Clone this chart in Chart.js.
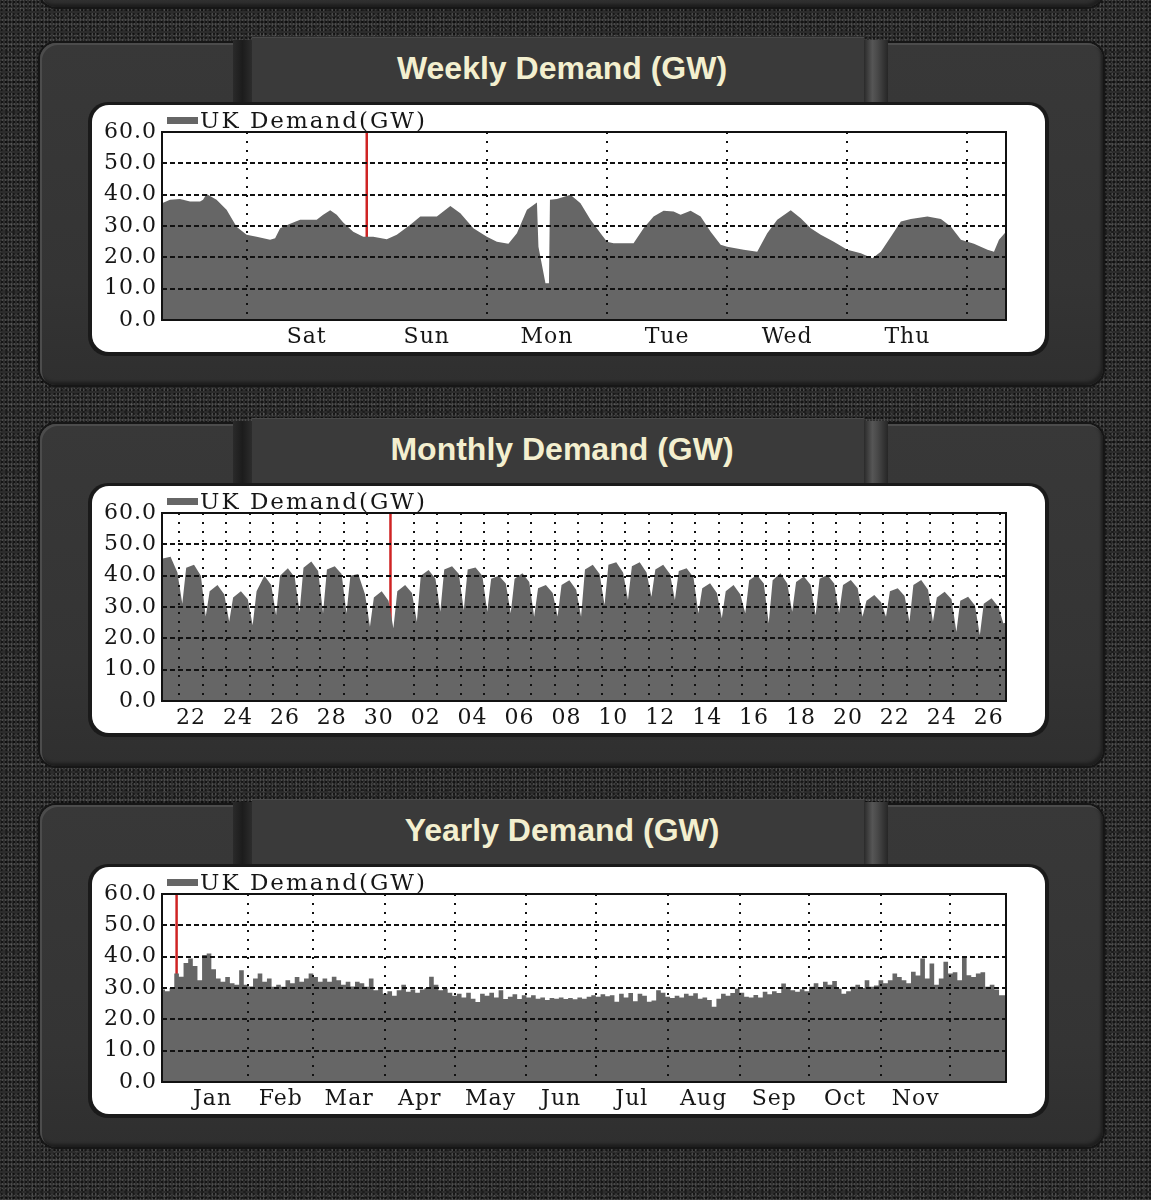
<!DOCTYPE html>
<html>
<head>
<meta charset="utf-8">
<script src="https://cdn.jsdelivr.net/npm/chart.js@4.4.1/dist/chart.umd.min.js"></script>
<style>
html,body{margin:0;padding:0;}
body{
  width:1151px;height:1200px;position:relative;overflow:hidden;
  background-color:#2c2c2c;
  background-image:
    radial-gradient(rgba(0,0,0,.55) 0.9px, transparent 1.4px),
    radial-gradient(rgba(255,255,255,.14) 0.7px, transparent 1.2px),
    radial-gradient(rgba(0,0,0,.35) 1px, transparent 1.6px),
    radial-gradient(rgba(255,255,255,.08) 1px, transparent 1.5px);
  background-size:4px 4px,3px 5px,7px 6px,11px 9px;
  background-position:0 0,1px 2px,3px 1px,5px 4px;
}
.frame{position:absolute;left:40px;width:1063px;height:342px;border-radius:16px;
  background:linear-gradient(#383838,#343434 70%,#2f2f2f);
  box-shadow:0 0 0 2px #161616, inset 2px 2px 0 #4c4c4c, inset -2px -3px 3px #1e1e1e;}
.tab{position:absolute;left:252px;width:612px;height:70px;background:#3a3a3a;
  box-shadow:inset 0 1px 0 #4a4a4a;}
.groove-l{position:absolute;left:233px;width:19px;height:67px;
  background:linear-gradient(90deg,#2a2a2a,#1c1c1c 50%,#2c2c2c);}
.groove-r{position:absolute;left:864px;width:24px;height:67px;
  background:linear-gradient(90deg,#2a2a2a,#565656 35%,#4a4a4a 55%,#262626);}
.title{position:absolute;left:252px;width:620px;height:38px;line-height:38px;text-align:center;
  font:bold 32px "Liberation Sans",Arial,sans-serif;color:#f3efcf;white-space:nowrap;}
.rim{position:absolute;left:88px;width:961px;height:254px;border-radius:20px;background:#1a1a1a;}
.box{position:absolute;left:92px;width:953px;height:247px;border-radius:17px;background:#fff;}
canvas{position:absolute;left:92px;}
</style>
</head>
<body>
<div class="frame" style="top:-335px"></div>

<div class="frame" style="top:43px"></div>
<div class="groove-l" style="top:40px"></div>
<div class="tab" style="top:37px"></div>
<div class="groove-r" style="top:40px"></div>
<div class="title" style="top:50px">Weekly Demand (GW)</div>
<div class="rim" style="top:102px"></div>
<div class="box" style="top:105px"></div>
<canvas id="weekly" width="953" height="247" style="top:105px"></canvas>

<div class="frame" style="top:424px"></div>
<div class="groove-l" style="top:421px"></div>
<div class="tab" style="top:418px"></div>
<div class="groove-r" style="top:421px"></div>
<div class="title" style="top:431px">Monthly Demand (GW)</div>
<div class="rim" style="top:483px"></div>
<div class="box" style="top:486px"></div>
<canvas id="monthly" width="953" height="247" style="top:486px"></canvas>

<div class="frame" style="top:805px"></div>
<div class="groove-l" style="top:802px"></div>
<div class="tab" style="top:799px"></div>
<div class="groove-r" style="top:802px"></div>
<div class="title" style="top:812px">Yearly Demand (GW)</div>
<div class="rim" style="top:864px"></div>
<div class="box" style="top:867px"></div>
<canvas id="yearly" width="953" height="247" style="top:867px"></canvas>

<script>
// ---------- shared ----------
const seriesLabel = 'UK Demand(GW)';
const yTickValues = [0, 10, 20, 30, 40, 50, 60];

// ---------- weekly (hours from Saturday 00:00) ----------
const weeklyHours = [
  -16.9, -15.3, -13.3, -11.3, -9.3, -8.7, -8.0, -6.0, -4.0, -2.0,
  0.0, 2.0, 4.7, 5.7, 6.7, 8.7, 10.7, 14.0, 15.3, 16.7,
  18.0, 19.3, 21.3, 23.3, 25.3, 28.0, 30.0, 32.7, 34.7, 38.0,
  40.7, 42.7, 45.3, 48.0, 50.0, 52.3, 54.0, 56.0, 58.0, 58.3,
  59.7, 60.4, 60.6, 62.0, 64.7, 66.7, 68.7, 70.7, 72.0, 73.3,
  77.3, 79.3, 81.3, 83.3, 85.3, 86.7, 88.7, 90.7, 92.7, 94.7,
  96.0, 99.3, 102.0, 104.0, 106.0, 108.7, 110.7, 112.7, 114.7, 117.3,
  120.0, 122.7, 125.0, 126.7, 128.7, 130.7, 132.7, 136.0, 138.7, 140.7,
  142.7, 145.3, 148.0, 149.3, 150.3, 151.7
];
const weeklyDemand = [
  37.3, 38.4, 38.6, 37.8, 37.8, 38.4, 40.2, 38.4, 35.2, 29.8,
  27.2, 26.6, 25.6, 26.1, 29.3, 30.7, 32.0, 32.0, 33.6, 35.0,
  33.6, 31.1, 28.2, 26.6, 26.6, 25.8, 27.2, 30.4, 33.0, 33.0,
  36.4, 34.1, 29.3, 26.6, 25.0, 24.3, 27.7, 35.2, 37.5, 23.4,
  11.7, 11.7, 38.4, 38.6, 40.0, 37.3, 32.0, 27.7, 25.0, 24.5,
  24.5, 29.3, 33.0, 34.9, 34.6, 33.6, 34.9, 33.0, 28.2, 24.0,
  23.4, 22.4, 21.8, 27.7, 32.0, 35.0, 32.5, 29.3, 27.2, 25.0,
  22.4, 21.3, 19.7, 21.8, 26.6, 31.4, 32.2, 33.0, 32.2, 29.8,
  25.6, 24.3, 22.4, 21.8, 25.6, 28.2
];
const weeklyDayNames = ['Sat', 'Sun', 'Mon', 'Tue', 'Wed', 'Thu'];
const weeklyMidnights = [0, 24, 48, 72, 96, 120, 144];
const weeklyRange = [-16.9, 151.7];
const weeklyMarkerHour = 24;

// ---------- monthly (day index 0 = the "22"; samples at fixed hours) ----------
const monthlyDayNumbers = ['21','22','23','24','25','26','27','28','29','30',
  '01','02','03','04','05','06','07','08','09','10','11','12','13','14','15',
  '16','17','18','19','20','21','22','23','24','25','26','27'];
const monthlyFirstIndex = -1;
const monthlySampleHours = [3, 7, 15, 22];
const monthlyNight = [44, 31, 27, 25.3, 24.2, 27.4, 28.5, 28, 28, 23.7,
  23.2, 25.3, 28.5, 29, 28.5, 28, 26.9, 27, 26.9, 30.6,
  32.2, 33.3, 32.2, 28, 26.4, 28, 24.8, 28.5, 27.4, 28,
  26.9, 26.9, 25.3, 25.3, 22.1, 21, 24.8];
const monthlyMorning = [45.5, 42.5, 35, 33, 35, 40, 42.5, 42, 40, 33,
  35, 40, 42, 42, 39, 39, 36, 37, 42, 43.5,
  43, 42, 41.5, 36, 35, 38.5, 38.5, 38, 39, 37,
  32, 35, 37, 33, 32, 31, 25];
const monthlyPeak = [46, 43.5, 37, 35, 40, 42.4, 44.5, 43, 40.5, 35,
  37, 41.8, 43, 42.6, 40, 40.8, 37, 38.5, 43.5, 44.3,
  44.3, 43.5, 42.4, 37.6, 37, 40.2, 40.8, 39.7, 40.2, 38.6,
  33.8, 36, 38.6, 34.9, 33.3, 32.8, 28];
const monthlyEvening = [41, 40, 34, 32.5, 37, 39.5, 41.5, 40.5, 34, 32,
  34.5, 39, 40.5, 40, 37.5, 38, 34.5, 35.5, 40.5, 41,
  41, 40.5, 39.5, 34.5, 34, 37.5, 37.5, 37, 37.5, 36,
  31.5, 33.5, 35.5, 32.5, 30.5, 30, 26];
const monthlyRange = [-0.74, 35.24];
const monthlyMarkerDay = 9;

// ---------- yearly (days from 1 Jan, 2-day bins) ----------
const yearlyStartDay = -7;
const yearlyBinDays = 2;
const yearlyDemand = [
  29, 29.5, 29, 30, 34.6, 33.6, 38, 39.4, 37, 32.5,
  40.5, 41, 36, 33, 32, 33.5, 31.5, 31, 35.7, 31,
  30.5, 33, 34.6, 32, 33, 30.4, 31, 30.4, 32.5, 31.5,
  33.5, 32, 33, 34.6, 33.5, 32, 33, 32, 33.6, 32.5,
  31, 32, 30.5, 32, 31.5, 30.4, 33, 29.3, 30, 28.2,
  29, 27.5, 29.3, 31, 28.8, 29.5, 28.5, 29.5, 30, 33.6,
  31, 29.3, 29.8, 28.5, 27.5, 28.2, 27, 28.5, 26.6, 25.5,
  28.2, 27.5, 28.5, 27, 29.3, 26.5, 27.2, 28, 26.5, 27.7,
  27, 27.7, 26.6, 27, 26.2, 26.8, 26.6, 27, 26.5, 26.8,
  26.4, 27, 26.6, 27.2, 27.7, 27.2, 28, 27.4, 27.7, 25.6,
  28.2, 27, 28.4, 25.8, 28.2, 27.5, 25.6, 26, 29.3, 28.5,
  27.2, 26.8, 27.5, 27, 28.2, 27.5, 28.3, 26.6, 27, 26.2,
  24, 26.6, 28.2, 27.5, 28.4, 29.8, 28.5, 27.2, 27, 27.8,
  27, 28.8, 28, 29, 28.4, 31.4, 30, 29.3, 28.8, 29.6,
  29, 30.4, 31.5, 30, 32, 31, 32.2, 29.8, 28.2, 29,
  30.4, 31, 30, 32.5, 30.4, 30.8, 32.5, 31.5, 32.5, 34.6,
  33.5, 32.5, 31.5, 35.2, 34, 39.4, 33, 37.8, 31, 33,
  38.4, 34.6, 35, 32.5, 40, 34.1, 33.5, 34.6, 35, 30.4,
  31, 29.5, 27.7
];
const yearMonthNames = ['Jan','Feb','Mar','Apr','May','Jun','Jul','Aug','Sep','Oct','Nov'];
const yearMonthStarts = [0, 31, 59, 90, 120, 151, 181, 212, 243, 273, 304, 334];
const yearlyRange = [-6.3, 358];
const yearlyMarkerDay = 0;

// ---------- build point lists ----------
const weeklyPoints = weeklyHours.map((h, i) => ({x: h, y: weeklyDemand[i]}));

const monthlySeries = [monthlyNight, monthlyMorning, monthlyPeak, monthlyEvening];
const monthlyPoints = [];
monthlyDayNumbers.forEach((d, k) => {
  monthlySampleHours.forEach((hr, s) => {
    const v = monthlySeries[s][k];
    if (v != null) monthlyPoints.push({x: monthlyFirstIndex + k + hr / 24, y: v});
  });
});

const yearlyPoints = yearlyDemand.map((v, i) => ({x: yearlyStartDay + i * yearlyBinDays, y: v}));
yearlyPoints.push({x: yearlyStartDay + yearlyDemand.length * yearlyBinDays, y: yearlyDemand[yearlyDemand.length - 1]});

// ticks
const weeklyLabelTicks = weeklyDayNames.map((n, i) => ({value: weeklyMidnights[i] + 12, label: n}));
const monthlyGrid = [];
for (let k = 0; k <= 35; k++) monthlyGrid.push(k);
const monthlyLabelTicks = [];
for (let k = 0; k <= 34; k += 2) monthlyLabelTicks.push({value: k + 0.5, label: monthlyDayNumbers[k - monthlyFirstIndex]});
const yearlyLabelTicks = yearMonthNames.map((n, i) => ({value: (yearMonthStarts[i] + yearMonthStarts[i + 1]) / 2, label: n}));

// ---------- chart factory ----------
const tickFont = {family: '"DejaVu Serif", serif', size: 22};
const textColor = '#161616';

const frameAndKey = {
  id: 'frameAndKey',
  beforeDraw(chart) { chart.ctx.letterSpacing = '1px'; },
  afterDraw(chart) {
    const ctx = chart.ctx, a = chart.chartArea;
    ctx.save();
    ctx.setLineDash([]);
    ctx.strokeStyle = '#111';
    ctx.lineWidth = 2;
    ctx.strokeRect(a.left, a.top, a.right - a.left, a.bottom - a.top);
    const ds = chart.data.datasets[0];
    ctx.fillStyle = ds.backgroundColor;
    ctx.fillRect(a.left + 5, a.top - 15, 31, 7);
    ctx.font = '23px "DejaVu Serif"';
    ctx.letterSpacing = '2px';
    ctx.fillStyle = textColor;
    ctx.textAlign = 'left';
    ctx.textBaseline = 'alphabetic';
    ctx.fillText(ds.label, a.left + 38, a.top - 4);
    ctx.restore();
  }
};

function buildChart(id, points, stepped, range, gridValues, labelTicks, marker) {
  return new Chart(document.getElementById(id), {
    type: 'line',
    data: {
      datasets: [
        {label: seriesLabel, data: points, fill: 'origin', backgroundColor: '#666666',
         borderWidth: 0, borderColor: '#666666', pointRadius: 0, stepped: stepped, tension: 0},
        {label: 'now', data: [{x: marker, y: 0}, {x: marker, y: 60}], fill: false,
         borderColor: '#cf2424', borderWidth: 2.5, pointRadius: 0}
      ]
    },
    options: {
      responsive: false, animation: false, devicePixelRatio: 1,
      layout: {padding: {left: 0, top: 27, right: 39, bottom: 0}},
      plugins: {legend: {display: false}, tooltip: {enabled: false}},
      scales: {
        x: {
          type: 'linear', position: 'bottom', min: range[0], max: range[1],
          afterBuildTicks: s => { s.ticks = labelTicks.map(t => ({value: t.value})); },
          ticks: {autoSkip: false, maxRotation: 0, padding: 4, font: tickFont, color: textColor,
                  callback: (v, i) => labelTicks[i].label},
          grid: {display: false, drawTicks: false},
          border: {display: false},
          afterFit: s => { s.height = 32; s.paddingLeft = 0; s.paddingRight = 0; }
        },
        xg: {
          type: 'linear', position: 'bottom', min: range[0], max: range[1],
          afterBuildTicks: s => { s.ticks = gridValues.map(v => ({value: v})); },
          ticks: {display: false},
          grid: {lineWidth: 2, drawTicks: false, z: 1,
                 color: c => (c.tick && c.tick.value === marker) ? 'rgba(0,0,0,0)' : '#111'},
          border: {display: false, dash: [2, 7]},
          afterFit: s => { s.height = 0; s.paddingLeft = 0; s.paddingRight = 0; }
        },
        y: {
          type: 'linear', min: 0, max: 60,
          afterBuildTicks: s => { s.ticks = yTickValues.map(v => ({value: v})); },
          ticks: {padding: 5, font: tickFont, color: textColor, callback: v => Number(v).toFixed(1)},
          grid: {color: '#111', lineWidth: 2, drawTicks: false, z: 1},
          border: {display: false, dash: [5, 3]},
          afterFit: s => { s.width = 70; s.paddingTop = 0; s.paddingBottom = 0; }
        }
      }
    },
    plugins: [frameAndKey]
  });
}

buildChart('weekly', weeklyPoints, false, weeklyRange, weeklyMidnights, weeklyLabelTicks, weeklyMarkerHour);
buildChart('monthly', monthlyPoints, false, monthlyRange, monthlyGrid, monthlyLabelTicks, monthlyMarkerDay);
buildChart('yearly', yearlyPoints, 'after', yearlyRange, yearMonthStarts, yearlyLabelTicks, yearlyMarkerDay);
</script>
</body>
</html>
